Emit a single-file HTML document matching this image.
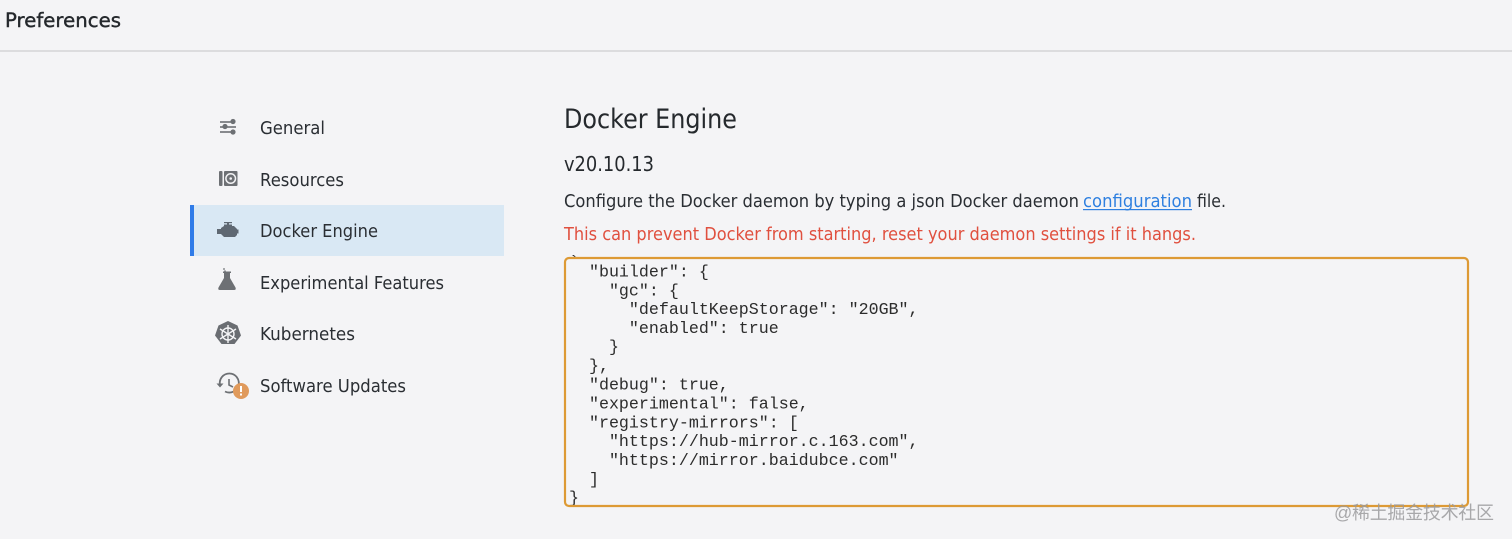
<!DOCTYPE html>
<html><head><meta charset="utf-8"><style>
html,body{margin:0;padding:0;background:#f4f4f6;width:1512px;height:539px;overflow:hidden}
svg{display:block}
.s{font-family:"DejaVu Sans",sans-serif;fill:#2a2e33}
.n{font-size:17.5px}
.m{font-family:"Liberation Mono",monospace;font-size:16.65px;fill:#2c2c2c;white-space:pre}
</style></head><body>
<svg width="1512" height="539" viewBox="0 0 1512 539" xmlns="http://www.w3.org/2000/svg">
<rect width="1512" height="539" fill="#f4f4f6"/>
<rect x="0" y="50" width="1512" height="2" fill="#dcdcde"/>
<text class="s" x="5" y="27" font-size="19.5" stroke="#24282c" stroke-width="0.4" textLength="116" lengthAdjust="spacingAndGlyphs" style="fill:#24282c">Preferences</text>

<rect x="190" y="205" width="314" height="51" fill="#d9e8f4"/>
<rect x="190" y="205" width="4" height="51" fill="#2f7be8"/>

<text class="s n" x="260" y="134" textLength="65" lengthAdjust="spacingAndGlyphs">General</text>
<text class="s n" x="260" y="186" textLength="84" lengthAdjust="spacingAndGlyphs">Resources</text>
<text class="s n" x="260" y="237" textLength="118" lengthAdjust="spacingAndGlyphs">Docker Engine</text>
<text class="s n" x="260" y="289" textLength="184" lengthAdjust="spacingAndGlyphs">Experimental Features</text>
<text class="s n" x="260" y="340" textLength="95" lengthAdjust="spacingAndGlyphs">Kubernetes</text>
<text class="s n" x="260" y="392" textLength="146" lengthAdjust="spacingAndGlyphs">Software Updates</text>

<!-- General icon -->
<g stroke="#6d7074" stroke-width="1.6" fill="#6d7074">
<line x1="220" y1="122" x2="232" y2="122"/><line x1="220" y1="127" x2="236" y2="127"/><line x1="220" y1="132" x2="232" y2="132"/>
<circle cx="233" cy="121.5" r="2.6" stroke="none"/><circle cx="225" cy="126.5" r="2.6" stroke="none"/><circle cx="233" cy="132" r="2.6" stroke="none"/>
</g>
<!-- Resources icon -->
<rect x="219" y="171" width="3.5" height="15" rx="1" fill="#6d7074"/>
<rect x="224" y="171" width="13.500" height="15" rx="1" fill="#6d7074"/>
<circle cx="230.7" cy="178.500" r="4.800" fill="none" stroke="#f4f4f6" stroke-width="1.500"/>
<circle cx="230.700" cy="178.500" r="1.300" fill="#f4f4f6"/>
<!-- Engine icon -->
<g fill="#5f6872">
<path d="M221 228l3-2h10l3 3v6l-2 2h-11l-3-3z"/>
<rect x="224" y="224.500" width="8" height="2"/>
<rect x="227" y="222.500" width="2" height="3"/>
<rect x="224" y="222" width="8" height="1.200"/>
<rect x="217" y="229" width="4.500" height="5"/>
<rect x="237" y="229.500" width="1.500" height="4"/>
</g>
<!-- Flask icon -->
<g fill="#6d7074">
<path d="M224 273h6v5l5.500 9.500q1 2.500-1.500 2.500h-14q-2.500 0-1.500-2.500l5.500-9.500z"/>
<circle cx="224" cy="269" r="0.900"/><circle cx="225" cy="271" r="0.800"/>
<rect x="223" y="271.500" width="8" height="1.500"/>
</g>
<!-- Kubernetes icon -->
<path d="M228 321l9.500 4.500 3.500 10-6.500 8.500h-13l-6.500-8.500 3.500-10z" fill="#6a6d72"/>
<g stroke="#f4f4f6" fill="none" stroke-width="1.400">
<circle cx="228" cy="334" r="6"/>
<line x1="228" y1="325" x2="228" y2="343"/><line x1="220" y1="329" x2="236" y2="339"/><line x1="236" y1="329" x2="220" y2="339"/>
</g>
<!-- Updates icon -->
<path d="M220 385a9.500 9.500 0 1 1 5 6.500" fill="none" stroke="#6d7074" stroke-width="1.800"/>
<path d="M216.500 383.500h7l-3.500 4z" fill="#6d7074"/>
<path d="M229 379v6l4 2" fill="none" stroke="#6d7074" stroke-width="1.600"/>
<circle cx="241" cy="391" r="8" fill="#e09a5c"/>
<rect x="240" y="386" width="2" height="6" fill="#fff"/><rect x="240" y="393.500" width="2" height="2" fill="#fff"/>

<!-- Main -->
<text class="s" x="564" y="128" font-size="27" textLength="173" lengthAdjust="spacingAndGlyphs" style="fill:#25292d">Docker Engine</text>
<text class="s" x="564" y="171" font-size="20" textLength="90" lengthAdjust="spacingAndGlyphs" style="fill:#25292d">v20.10.13</text>
<text class="s" x="564" y="207" font-size="17.500" textLength="515" lengthAdjust="spacingAndGlyphs">Configure the Docker daemon by typing a json Docker daemon</text>
<text class="s" x="1083" y="207" font-size="17.500" textLength="109" lengthAdjust="spacingAndGlyphs" style="fill:#2f80e0">configuration</text>
<rect x="1083" y="209" width="109" height="1.200" fill="#2f80e0"/>
<text class="s" x="1197" y="207" font-size="17.500" textLength="29" lengthAdjust="spacingAndGlyphs">file.</text>
<text class="s" x="564" y="240" font-size="17.500" textLength="632" lengthAdjust="spacingAndGlyphs" style="fill:#e0503f">This can prevent Docker from starting, reset your daemon settings if it hangs.</text>

<!-- Code -->
<text class="m" x="569" y="267">`</text>
<text class="m" x="569" y="276.500">  "builder": {</text>
<text class="m" x="569" y="295.400">    "gc": {</text>
<text class="m" x="569" y="314">      "defaultKeepStorage": "20GB",</text>
<text class="m" x="569" y="333">      "enabled": true</text>
<text class="m" x="569" y="351.500">    }</text>
<text class="m" x="569" y="370.500">  },</text>
<text class="m" x="569" y="389.500">  "debug": true,</text>
<text class="m" x="569" y="408.500">  "experimental": false,</text>
<text class="m" x="569" y="427.500">  "registry-mirrors": [</text>
<text class="m" x="569" y="446">    "https://hub-mirror.c.163.com",</text>
<text class="m" x="569" y="465">    "https://mirror.baidubce.com"</text>
<text class="m" x="569" y="484">  ]</text>
<text class="m" x="569" y="502.500">}</text>

<rect x="565" y="258" width="903" height="248" rx="4" fill="none" stroke="#dd9a35" stroke-width="2.200"/>

<text x="1334" y="519" font-family="'Liberation Sans','Noto Sans CJK SC',sans-serif" font-size="18" fill="#9a9a9c" fill-opacity="0.85" textLength="160">@稀土掘金技术社区</text>
</svg>
</body></html>
